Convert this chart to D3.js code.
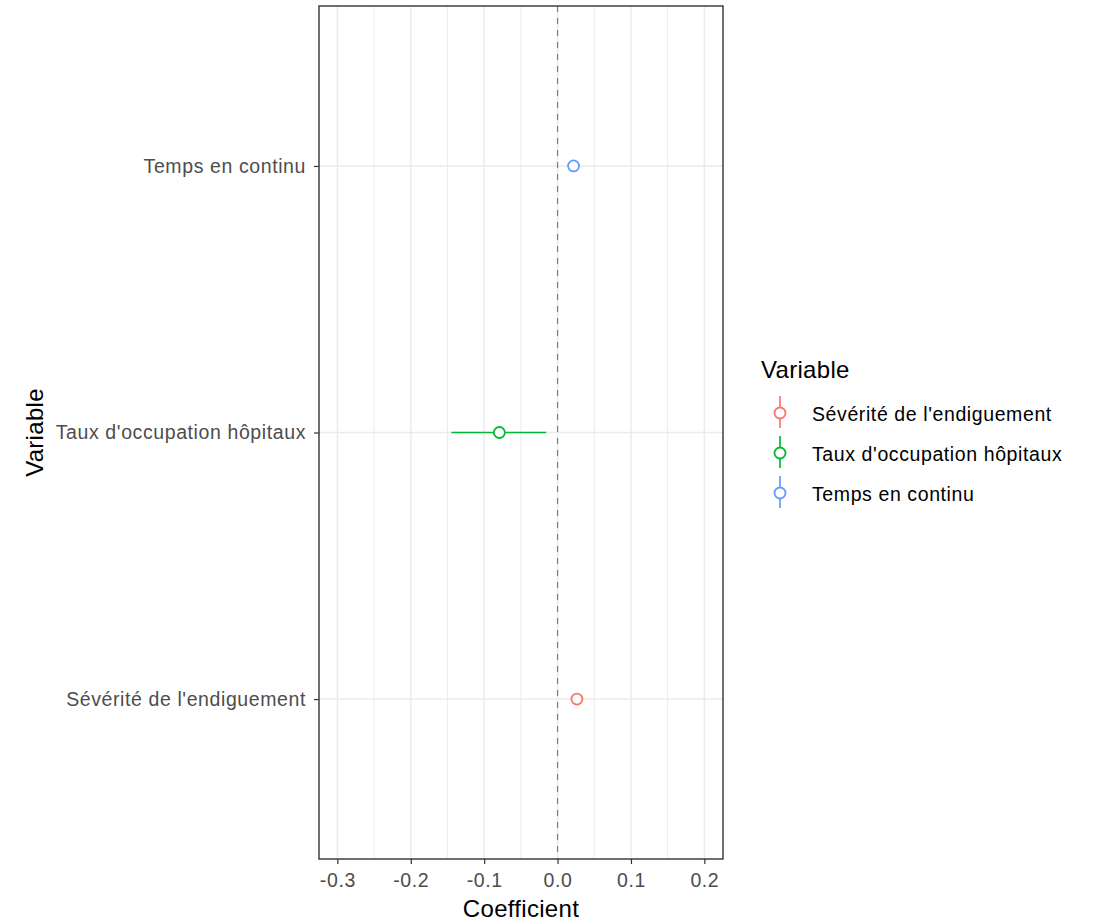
<!DOCTYPE html>
<html>
<head>
<meta charset="utf-8">
<script src="https://cdn.jsdelivr.net/npm/d3@7"></script>
<style>
  body { margin: 0; background: #fff; }
  svg text { font-family: "Liberation Sans", Arial, sans-serif; }
</style>
</head>
<body>
<div class="chart"></div>
<script>
// data
const variables = ["Sévérité de l'endiguement", "Taux d'occupation hôpitaux", "Temps en continu"];
const estimates = [0.0264, -0.0793, 0.0218];
const lower = [0.0234, -0.1446, 0.0190];
const upper = [0.0294, -0.0154, 0.0246];
const colors = ["#F8766D", "#00BA38", "#619CFF"];
const xTicks = [-0.3, -0.2, -0.1, 0.0, 0.1, 0.2];
const xMinor = [-0.25, -0.15, -0.05, 0.05, 0.15];

const rows = variables.map((v, i) => ({
    variable: v, est: estimates[i], lo: lower[i], hi: upper[i], color: colors[i]
}));

const W = 1094, H = 924;
const margin = {top: 6, right: 371, bottom: 65, left: 319};
const width = W - margin.left - margin.right;
const height = H - margin.top - margin.bottom;

const labelSize = "19.5px";
const labelSpacing = "0.6px";

const svg = d3.select(".chart")
    .append("svg")
    .attr("width", W)
    .attr("height", H);

const g = svg.append("g")
    .attr("transform", `translate(${margin.left},${margin.top})`);

const x = d3.scaleLinear()
    .domain([-0.325, 0.2254])
    .range([0, width]);

// discrete scale with 0.6 expansion each side
const y = d3.scalePoint()
    .domain(variables.slice().reverse())
    .range([0, height])
    .padding(0.6);

// grid
g.selectAll(".minor")
    .data(xMinor)
    .enter().append("line")
    .attr("x1", d => x(d)).attr("x2", d => x(d))
    .attr("y1", 0).attr("y2", height)
    .attr("stroke", "#ebebeb").attr("stroke-width", 1);

g.selectAll(".major")
    .data(xTicks)
    .enter().append("line")
    .attr("x1", d => x(d)).attr("x2", d => x(d))
    .attr("y1", 0).attr("y2", height)
    .attr("stroke", "#ebebeb").attr("stroke-width", 1.5);

g.selectAll(".hgrid")
    .data(variables)
    .enter().append("line")
    .attr("x1", 0).attr("x2", width)
    .attr("y1", d => y(d)).attr("y2", d => y(d))
    .attr("stroke", "#ebebeb").attr("stroke-width", 1.5);

// zero line
g.append("line")
    .attr("x1", x(0)).attr("x2", x(0))
    .attr("y1", 0).attr("y2", height)
    .attr("stroke", "#7f7f7f")
    .attr("stroke-width", 1.2)
    .attr("stroke-dasharray", "6,6");

// intervals and points
g.selectAll(".ci")
    .data(rows)
    .enter().append("line")
    .attr("x1", d => x(d.lo)).attr("x2", d => x(d.hi))
    .attr("y1", d => y(d.variable)).attr("y2", d => y(d.variable))
    .attr("stroke", d => d.color)
    .attr("stroke-width", 1.7);

g.selectAll(".pt")
    .data(rows)
    .enter().append("circle")
    .attr("cx", d => x(d.est))
    .attr("cy", d => y(d.variable))
    .attr("r", 5.5)
    .attr("fill", "white")
    .attr("stroke", d => d.color)
    .attr("stroke-width", 1.8);

// border
g.append("rect")
    .attr("width", width).attr("height", height)
    .attr("fill", "none")
    .attr("stroke", "#333")
    .attr("stroke-width", 1.4);

// axes
const xAxis = g.append("g")
    .attr("transform", `translate(0,${height})`)
    .call(d3.axisBottom(x).tickValues(xTicks).tickFormat(d => d3.format(".1f")(d).replace("−", "-")).tickSize(5).tickPadding(9));

const yAxis = g.append("g")
    .call(d3.axisLeft(y).tickSize(5).tickPadding(8));

[xAxis, yAxis].forEach(a => {
    a.select(".domain").remove();
    a.selectAll(".tick line").attr("stroke", "#333").attr("stroke-width", 1.2);
    a.selectAll(".tick text")
        .attr("fill", "#4d4d4d")
        .style("font-size", labelSize)
        .style("letter-spacing", labelSpacing)
        .style("font-family", "Liberation Sans, Arial, sans-serif");
});

// axis titles
svg.append("text")
    .attr("x", margin.left + width / 2)
    .attr("y", 917)
    .attr("text-anchor", "middle")
    .style("font-size", "24px")
    .style("letter-spacing", "0.3px")
    .attr("fill", "#000")
    .text("Coefficient");

svg.append("text")
    .attr("transform", `translate(43,${margin.top + y(variables[1])}) rotate(-90)`)
    .attr("text-anchor", "middle")
    .style("font-size", "24px")
    .style("letter-spacing", "0.3px")
    .attr("fill", "#000")
    .text("Variable");

// legend
const legend = svg.append("g").attr("transform", "translate(761,0)");
legend.append("text")
    .attr("x", 0).attr("y", 378)
    .style("font-size", "24px")
    .style("letter-spacing", "0.3px")
    .attr("fill", "#000")
    .text("Variable");

const item = legend.selectAll(".item")
    .data(rows)
    .enter().append("g")
    .attr("transform", (d, i) => `translate(0,${413 + i * 40})`);

item.append("line")
    .attr("x1", 19).attr("x2", 19)
    .attr("y1", -17).attr("y2", 15)
    .attr("stroke", d => d.color)
    .attr("stroke-width", 1.7);

item.append("circle")
    .attr("cx", 19).attr("cy", 0).attr("r", 5.5)
    .attr("fill", "white")
    .attr("stroke", d => d.color)
    .attr("stroke-width", 1.8);

item.append("text")
    .attr("x", 51).attr("y", 8)
    .style("font-size", labelSize)
    .style("letter-spacing", labelSpacing)
    .attr("fill", "#000")
    .text(d => d.variable);
</script>
</body>
</html>
